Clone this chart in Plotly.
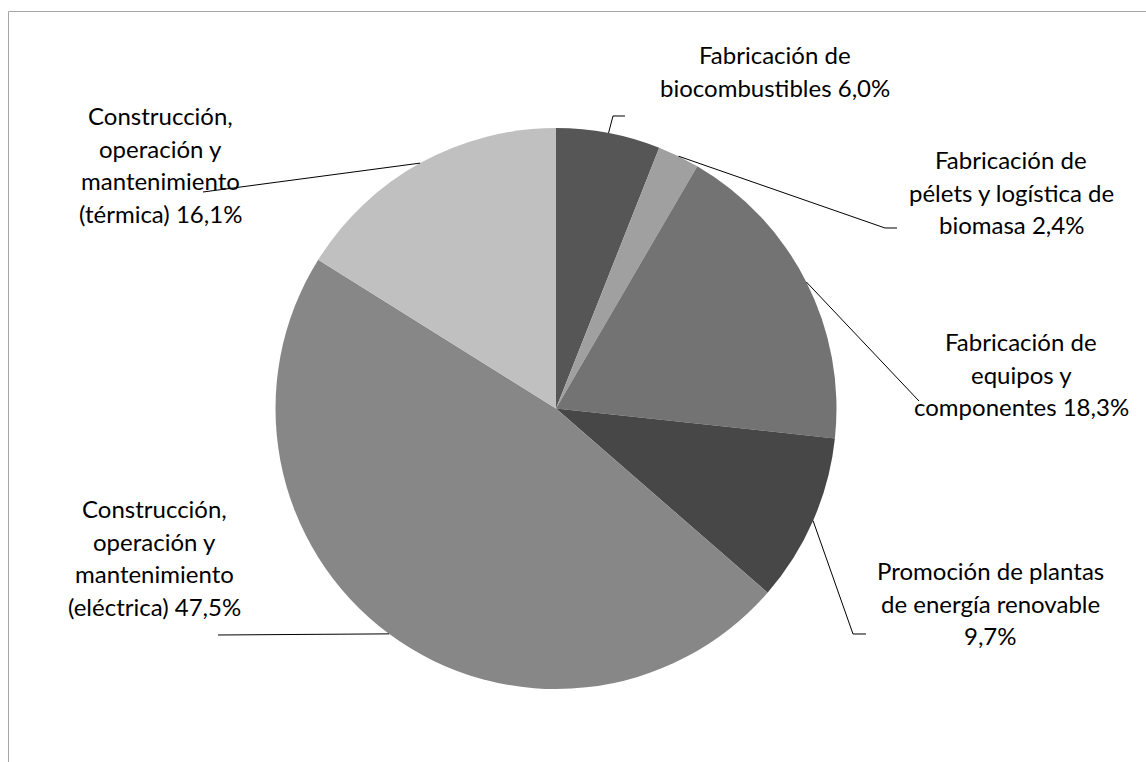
import math
import plotly.graph_objects as go

# Employment share by activity, clockwise from 12 o'clock
categories = [
    "Fabricación de biocombustibles",
    "Fabricación de pélets y logística de biomasa",
    "Fabricación de equipos y componentes",
    "Promoción de plantas de energía renovable",
    "Construcción, operación y mantenimiento (eléctrica)",
    "Construcción, operación y mantenimiento (térmica)",
]
shares = [6.0, 2.4, 18.3, 9.7, 47.5, 16.1]
slice_colors = ["#565656", "#a0a0a0", "#737373", "#474747", "#878787", "#c0c0c0"]

# Label text, one entry per line
label_lines = [
    ["Fabricación de", "biocombustibles {v}"],
    ["Fabricación de", "pélets y logística de", "biomasa {v}"],
    ["Fabricación de", "equipos y", "componentes {v}"],
    ["Promoción de plantas", "de energía renovable", "{v}"],
    ["Construcción,", "operación y", "mantenimiento", "(eléctrica) {v}"],
    ["Construcción,", "operación y", "mantenimiento", "(térmica) {v}"],
]

W, H = 1146, 762
CX, CY, R = 556.0, 408.5, 280.5

# label placement (pixel centre x, baseline of first line) and leader path
label_pos = [(775, 62), (1011, 167), (1021, 349), (990, 578), (154, 516), (160, 123)]
leader_tail = [
    [(613, 116), (625, 116)],
    [(885, 228), (897, 228)],
    [(919, 401)],
    [(853, 634), (866, 634)],
    [(218, 635)],
    [(203, 192)],
]
LINE_STEP = 32.5
FONT_SIZE = 24
FONT = "Lato"


def px(x):
    return x / W


def py(y):
    return 1 - y / H


fig = go.Figure(
    go.Pie(
        labels=categories,
        values=shares,
        sort=False,
        direction="clockwise",
        rotation=0,
        marker=dict(colors=slice_colors, line=dict(width=0)),
        textinfo="none",
        hoverinfo="label+percent",
        showlegend=False,
        domain=dict(x=[px(CX - R), px(CX + R)], y=[py(CY + R), py(CY - R)]),
    )
)

shapes = []
annotations = []
total = sum(shares)
cum = 0.0
for i, v in enumerate(shares):
    mid = (cum + v / 2) / total * 2 * math.pi
    cum += v
    ax = CX + R * math.sin(mid)
    ay = CY - R * math.cos(mid)
    pts = [(ax, ay)] + leader_tail[i]
    path = "M " + " L ".join(f"{px(x):.5f},{py(y):.5f}" for x, y in pts)
    shapes.append(dict(type="path", xref="paper", yref="paper", path=path,
                       line=dict(color="#000000", width=1)))

    lx, ly = label_pos[i]
    val = f"{v:.1f}%".replace(".", ",")
    for k, line in enumerate(label_lines[i]):
        annotations.append(dict(
            x=px(lx), y=py(ly + k * LINE_STEP - 0.3 * FONT_SIZE),
            xref="paper", yref="paper", xanchor="center", yanchor="middle",
            text=line.format(v=val), showarrow=False,
            font=dict(family=FONT, size=FONT_SIZE, color="#000000"),
        ))

# chart area border
shapes.append(dict(type="rect", xref="paper", yref="paper",
                   x0=px(8.5), y0=py(800), x1=px(1200), y1=py(11.5),
                   line=dict(color="#a6a6a6", width=1), fillcolor="rgba(0,0,0,0)"))

fig.update_layout(
    width=W, height=H,
    margin=dict(l=0, r=0, t=0, b=0),
    paper_bgcolor="#ffffff",
    plot_bgcolor="#ffffff",
    shapes=shapes,
    annotations=annotations,
)

fig.write_html("out.html")
